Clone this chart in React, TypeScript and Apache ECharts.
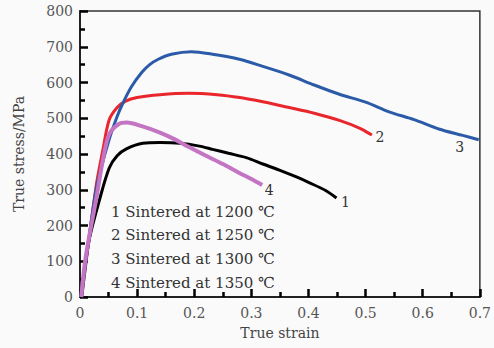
import React, { useEffect, useRef } from "react";
import * as echarts from "echarts";

const curve1: [number, number][] = [
  [0.002, 0], [0.016, 159], [0.034, 271], [0.051, 360], [0.065, 395], [0.082, 415],
  [0.11, 430], [0.14, 432], [0.175, 430], [0.209, 422], [0.232, 413], [0.26, 402],
  [0.291, 390], [0.32, 372], [0.349, 355], [0.38, 335], [0.401, 320], [0.43, 298], [0.449, 277],
];
const curve2: [number, number][] = [
  [0.003, 0], [0.028, 308], [0.04, 411], [0.051, 495], [0.065, 530], [0.08, 548],
  [0.1, 558], [0.14, 566], [0.19, 570], [0.24, 566], [0.28, 558], [0.32, 546],
  [0.366, 530], [0.41, 514], [0.454, 494], [0.49, 472], [0.511, 453],
];
const curve3: [number, number][] = [
  [0.003, 0], [0.028, 299], [0.051, 440], [0.065, 505], [0.075, 542], [0.09, 588],
  [0.108, 628], [0.122, 650], [0.137, 665], [0.16, 679], [0.195, 686], [0.232, 679], [0.279, 665],
  [0.32, 645], [0.366, 621], [0.41, 593], [0.454, 567], [0.5, 545], [0.541, 518],
  [0.585, 496], [0.628, 470], [0.67, 452], [0.698, 440],
];
const curve4: [number, number][] = [
  [0.002, 0], [0.01, 112], [0.028, 271], [0.04, 383], [0.051, 455], [0.068, 484],
  [0.082, 488], [0.108, 478], [0.14, 460], [0.166, 441], [0.19, 420], [0.218, 397],
  [0.25, 372], [0.279, 347], [0.3, 330], [0.319, 313],
];
const legendLines = [
  "1 Sintered at 1200 ℃",
  "2 Sintered at 1250 ℃",
  "3 Sintered at 1300 ℃",
  "4 Sintered at 1350 ℃",
];
const curveLabels = ["1", "2", "3", "4"];

const FONT = "'DejaVu Serif', 'Liberation Serif', serif";

export default function App() {
  const ref = useRef<HTMLDivElement>(null);
  useEffect(() => {
    if (!ref.current) return;
    const chart = echarts.init(ref.current, null, { renderer: "svg" });
    const mk = (name: string, data: [number, number][], color: string, width: number, label: string, lx: number, ly: number) => ({
      name,
      type: "line",
      data,
      smooth: 0.3,
      showSymbol: false,
      symbol: "none",
      lineStyle: { color, width },
      markPoint: {
        symbol: "circle",
        symbolSize: 0,
        data: [{ coord: data[data.length - 1], value: label }],
        label: {
          show: true,
          formatter: label,
          color: "#333",
          fontFamily: FONT,
          fontSize: 14,
          offset: [lx, ly],
        },
      },
    });
    const tickLine = { color: "#000", width: 2.5 };
    chart.setOption({
      animation: false,
      backgroundColor: "#fafafa",
      grid: { left: 80, top: 11, right: 13, bottom: 51, show: true, borderColor: "#333", borderWidth: 1.5, backgroundColor: "transparent" },
      xAxis: {
        type: "value",
        min: 0,
        max: 0.7,
        interval: 0.1,
        name: "True strain",
        nameLocation: "middle",
        nameGap: 29,
        nameTextStyle: { fontFamily: FONT, fontSize: 14, color: "#444" },
        axisLine: { show: true, onZero: false, lineStyle: { color: "#222", width: 2 } },
        axisTick: { show: true, inside: true, length: 8, lineStyle: tickLine },
        minorTick: { show: true, splitNumber: 2, length: 5, lineStyle: tickLine },
        splitLine: { show: false },
        axisLabel: {
          fontFamily: FONT, fontSize: 14, color: "#555", margin: 9,
          formatter: (v: number) => (v === 0 ? "0" : v.toFixed(1)),
        },
      },
      yAxis: {
        type: "value",
        min: 0,
        max: 800,
        interval: 100,
        name: "True stress/MPa",
        nameLocation: "middle",
        nameGap: 54,
        nameTextStyle: { fontFamily: FONT, fontSize: 14, color: "#444" },
        axisLine: { show: true, onZero: false, lineStyle: { color: "#222", width: 2 } },
        axisTick: { show: true, inside: true, length: 8, lineStyle: tickLine },
        minorTick: { show: true, splitNumber: 2, length: 5, lineStyle: tickLine },
        splitLine: { show: false },
        axisLabel: { fontFamily: FONT, fontSize: 14, color: "#555", margin: 7 },
      },
      series: [
        mk("1", curve1, "#000000", 3, curveLabels[0], 9, 4),
        mk("2", curve2, "#e8262b", 3, curveLabels[1], 8, 2),
        mk("3", curve3, "#2b5ba8", 3, curveLabels[2], -19, 7),
        mk("4", curve4, "#c374c3", 4, curveLabels[3], 7, 5),
      ],
      graphic: legendLines.map((t, i) => ({
        type: "text",
        left: 111,
        top: 204 + i * 23.8,
        style: { text: t, fontFamily: FONT, fontSize: 15, fill: "#333" },
      })),
    });
    return () => chart.dispose();
  }, []);
  return <div ref={ref} style={{ width: 494, height: 348, position: "absolute", left: 0, top: 0 }} />;
}
